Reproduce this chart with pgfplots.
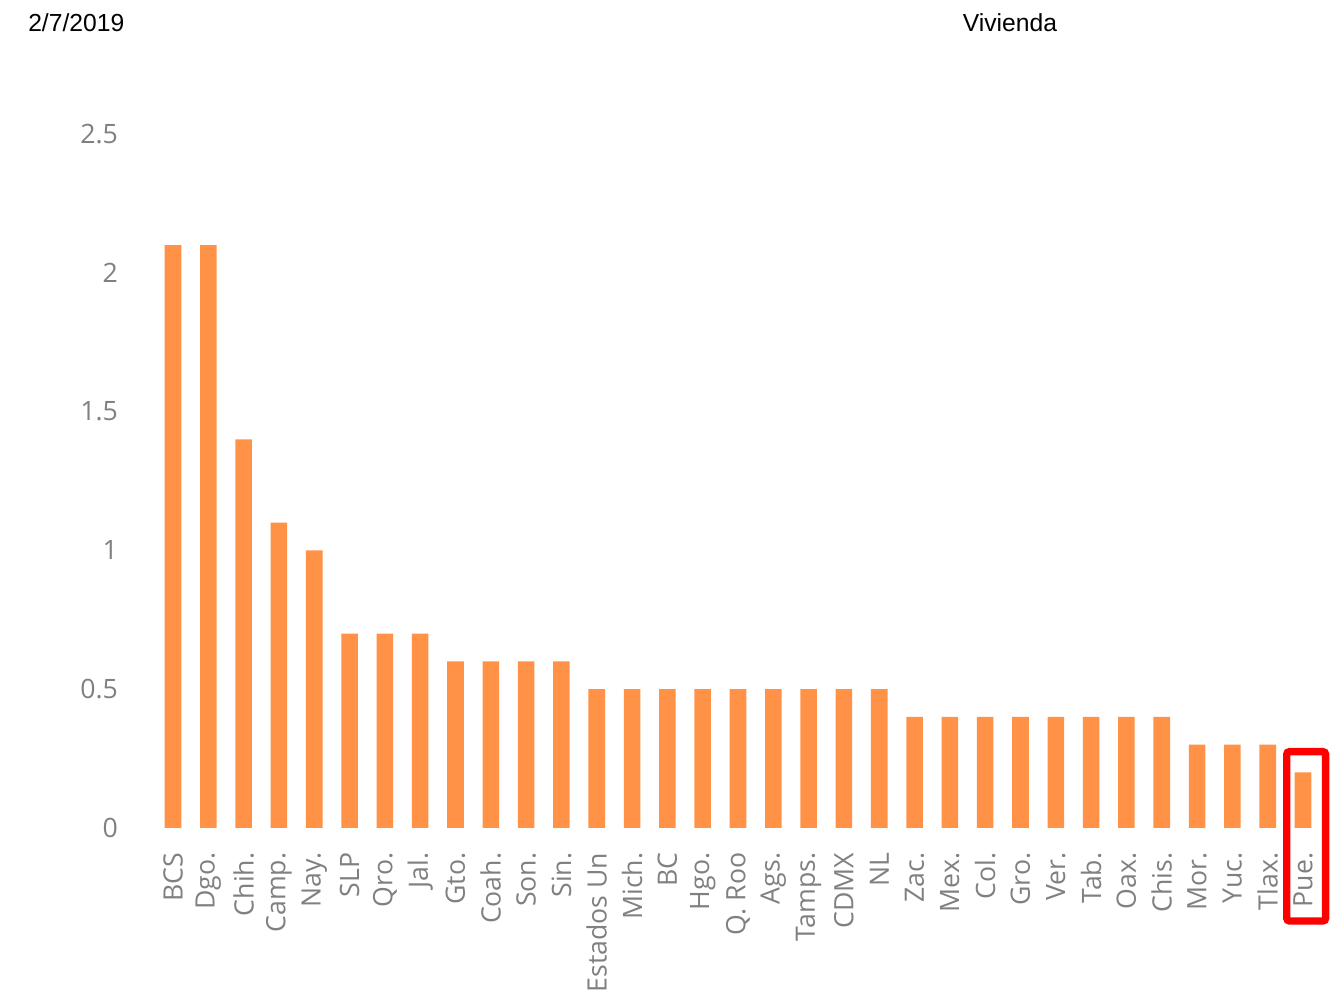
\documentclass[border=0pt]{standalone}
\usepackage{fontspec}
\setmainfont{Open Sans}
\newfontfamily\arialfont{Liberation Sans}
\usepackage{pgfplots}
\pgfplotsset{compat=1.18}
\definecolor{barorange}{RGB}{255,146,71}
\definecolor{labgray}{RGB}{128,128,128}
\begin{document}
\begin{tikzpicture}
\useasboundingbox (-116.5pt,-126pt) rectangle (888.5pt,621pt);
\begin{axis}[
  at={(0,0)}, anchor=south west,
  scale only axis,
  width=874pt, height=520.5pt,
  xmin=-0.5, xmax=32.5,
  ymin=0, ymax=2.5,
  ytick={0,0.5,1,1.5,2,2.5},
  xtick={0,...,32},
  xticklabels={BCS,Dgo.,Chih.,Camp.,Nay.,SLP,Qro.,Jal.,Gto.,Coah.,Son.,Sin.,Estados Un,Mich.,BC,Hgo.,Q. Roo,Ags.,Tamps.,CDMX,NL,Zac.,Mex.,Col.,Gro.,Ver.,Tab.,Oax.,Chis.,Mor.,Yuc.,Tlax.,Pue.},
  axis line style={draw=none},
  tick style={draw=none},
  major tick length=0pt,
  /pgf/number format/assume math mode=true,
  ticklabel style={font=\fontsize{20}{24}\selectfont, text=labgray},
  xticklabel style={rotate=90, anchor=east},
  xticklabel shift=15pt,
  yticklabel shift=24.5pt,
  clip=false,
]
\addplot[ybar, bar width=0.47, fill=barorange, draw=none] coordinates {
(0,2.1) (1,2.1) (2,1.4) (3,1.1) (4,1.0) (5,0.7) (6,0.7) (7,0.7)
(8,0.6) (9,0.6) (10,0.6) (11,0.6)
(12,0.5) (13,0.5) (14,0.5) (15,0.5) (16,0.5) (17,0.5) (18,0.5) (19,0.5) (20,0.5)
(21,0.4) (22,0.4) (23,0.4) (24,0.4) (25,0.4) (26,0.4) (27,0.4) (28,0.4)
(29,0.3) (30,0.3) (31,0.3) (32,0.2)
};
\draw[red, line width=5.5pt, rounded corners=2pt] (axis cs:31.54,0.275) rectangle (axis cs:32.64,-0.335);
\end{axis}
\node[anchor=west, font=\arialfont\fontsize{18.5}{22}\selectfont, inner sep=0pt] at (-95.5pt,603.75pt) {2/7/2019};
\node[anchor=center, font=\arialfont\fontsize{18.5}{22}\selectfont, inner sep=0pt] at (641pt,603.75pt) {Vivienda};
\end{tikzpicture}
\end{document}
